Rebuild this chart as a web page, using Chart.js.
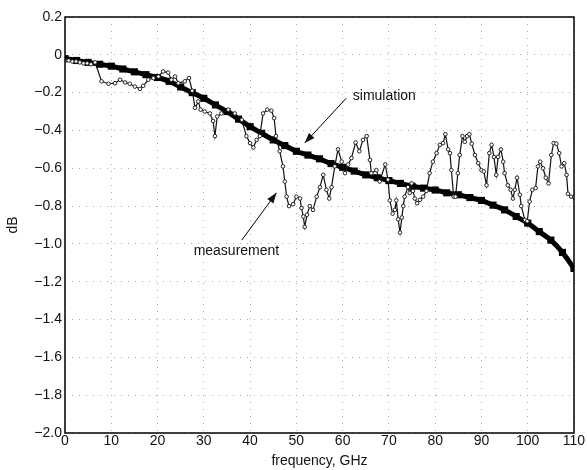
<!DOCTYPE html>
<html>
<head>
<meta charset="utf-8">
<script src="https://cdn.jsdelivr.net/npm/chart.js@4/dist/chart.umd.min.js"></script>
<style>
  html, body { margin: 0; padding: 0; background: #fff; }
  #wrap { width: 587px; height: 470px; }
</style>
</head>
<body>
<div id="wrap"><canvas id="lossChart" width="587" height="470"></canvas></div>
<script>
// axis ticks
const xTicks = [0, 10, 20, 30, 40, 50, 60, 70, 80, 90, 100, 110];
const yTickLabels = ['0.2', '0', '−0.2', '−0.4', '−0.6', '−0.8', '−1.0', '−1.2', '−1.4', '−1.6', '−1.8', '−2.0'];

// simulation (smooth curve)
const simFreq = [0, 2.5, 5, 7.5, 10, 12.5, 15, 17.5, 20, 22.5, 25, 27.5, 30, 32.5, 35, 37.5, 40, 42.5, 45, 47.5,
    50, 52.5, 55, 57.5, 60, 62.5, 65, 67.5, 70, 72.5, 75, 77.5, 80, 82.5, 85, 87.5, 90, 92.5, 95, 97.5,
    100, 102.5, 105, 107.5, 110];
const simDb = [-0.02, -0.03, -0.04, -0.05, -0.06, -0.075, -0.09, -0.105, -0.12, -0.14, -0.17, -0.2, -0.23, -0.265, -0.3, -0.34, -0.38, -0.415, -0.45, -0.48,
    -0.51, -0.53, -0.55, -0.575, -0.595, -0.615, -0.635, -0.65, -0.665, -0.68, -0.695, -0.705, -0.715, -0.73, -0.74, -0.755, -0.77, -0.795, -0.82, -0.855,
    -0.89, -0.935, -0.98, -1.045, -1.13];

// measurement (noisy)
const measFreq = [0, 0.8, 1.6, 2.4, 3.2, 4.0, 4.8, 5.6, 6.5, 7.9, 9.4, 10.8, 11.9, 13.0, 14.0, 15.1, 16.2, 16.9, 18.0, 19.1,
    20.2, 21.2, 22.3, 23.0, 23.8, 24.5, 25.9, 26.8, 27.5, 28.1, 28.8, 29.3, 30.2, 31.3, 32.0, 32.4, 32.9, 33.8, 35.3, 36.7,
    38.2, 39.2, 40.0, 40.7, 41.4, 42.1, 42.8, 43.7, 44.6, 45.2, 45.6, 46.4, 47.1, 47.5, 47.9, 48.4, 49.3, 50.0, 50.8, 51.1,
    51.5, 51.8, 52.3, 52.9, 53.6, 54.4, 55.1, 55.8, 56.5, 57.1, 57.6, 58.3, 59.0, 59.8, 60.5, 61.2, 61.9, 62.8, 63.6, 64.4,
    65.2, 65.9, 66.2, 67.3, 68.0, 69.2, 69.8, 70.2, 70.8, 71.3, 71.6, 72.0, 72.4, 72.8, 73.1, 73.4, 74.1, 74.5, 74.9, 75.2,
    75.6, 76.1, 76.7, 77.4, 78.1, 78.8, 79.5, 80.3, 81.0, 81.7, 82.2, 82.8, 83.2, 83.5, 84.0, 84.4, 84.9, 85.3, 85.9, 86.4,
    86.9, 87.4, 87.9, 88.6, 89.3, 90.0, 90.5, 91.1, 91.7, 92.2, 92.7, 93.2, 93.6, 94.2, 94.7, 95.0, 95.7, 96.3, 96.8, 97.2,
    97.7, 98.3, 98.6, 99.4, 99.9, 100.4, 101.0, 101.7, 102.2, 102.7, 103.3, 103.9, 104.5, 105.1, 105.6, 106.2, 106.8, 107.3, 107.9, 108.4,
    108.7, 109.4, 110];
const measDb = [-0.03, -0.03, -0.035, -0.035, -0.04, -0.045, -0.045, -0.05, -0.04, -0.14, -0.153, -0.15, -0.132, -0.146, -0.153, -0.168, -0.18, -0.164, -0.132, -0.123,
    -0.115, -0.088, -0.094, -0.132, -0.115, -0.15, -0.14, -0.123, -0.19, -0.28, -0.247, -0.29, -0.3, -0.31, -0.35, -0.43, -0.326, -0.31, -0.29, -0.31,
    -0.344, -0.43, -0.467, -0.49, -0.45, -0.43, -0.31, -0.29, -0.295, -0.335, -0.43, -0.51, -0.59, -0.67, -0.75, -0.8, -0.79, -0.75, -0.76, -0.81,
    -0.855, -0.91, -0.846, -0.8, -0.82, -0.75, -0.7, -0.635, -0.714, -0.76, -0.7, -0.59, -0.5, -0.565, -0.626, -0.58, -0.546, -0.464, -0.51, -0.45,
    -0.43, -0.556, -0.626, -0.61, -0.67, -0.58, -0.66, -0.77, -0.84, -0.82, -0.77, -0.87, -0.94, -0.86, -0.8, -0.75, -0.7, -0.73, -0.68, -0.72,
    -0.76, -0.785, -0.767, -0.75, -0.72, -0.626, -0.565, -0.52, -0.476, -0.467, -0.42, -0.5, -0.52, -0.61, -0.75, -0.75, -0.626, -0.53, -0.43, -0.46,
    -0.43, -0.42, -0.47, -0.53, -0.573, -0.61, -0.617, -0.69, -0.52, -0.476, -0.54, -0.635, -0.54, -0.5, -0.565, -0.626, -0.69, -0.714, -0.76, -0.714,
    -0.65, -0.74, -0.8, -0.873, -0.88, -0.776, -0.714, -0.705, -0.59, -0.565, -0.6, -0.65, -0.68, -0.53, -0.467, -0.47, -0.52, -0.59, -0.573, -0.635,
    -0.735, -0.75, -0.753];

const FONT = '"Liberation Sans", Arial, sans-serif';

function pairs(xs, ys) {
    return xs.map((x, i) => ({ x: x, y: ys[i] }));
}

// frame box + text callouts with arrows
const calloutPlugin = {
    id: 'callouts',
    afterDatasetsDraw(chart) {
        const { ctx, chartArea: a, scales: { x, y } } = chart;
        ctx.save();
        ctx.strokeStyle = '#000';
        ctx.lineWidth = 1.5;
        ctx.strokeRect(a.left, a.top, a.right - a.left, a.bottom - a.top);

        const notes = [
            { text: 'simulation', tx: 62.2, ty: -0.22, from: [60.8, -0.229], to: [51.8, -0.467] },
            { text: 'measurement', tx: 27.8, ty: -1.04, from: [38.2, -0.98], to: [45.7, -0.73] }
        ];
        ctx.font = '14px ' + FONT;
        ctx.fillStyle = '#111';
        ctx.textBaseline = 'middle';
        ctx.textAlign = 'left';
        notes.forEach(n => {
            ctx.fillText(n.text, x.getPixelForValue(n.tx), y.getPixelForValue(n.ty));
            const x0 = x.getPixelForValue(n.from[0]), y0 = y.getPixelForValue(n.from[1]);
            const x1 = x.getPixelForValue(n.to[0]), y1 = y.getPixelForValue(n.to[1]);
            ctx.lineWidth = 1;
            ctx.beginPath();
            ctx.moveTo(x0, y0);
            ctx.lineTo(x1, y1);
            ctx.stroke();
            const ang = Math.atan2(y1 - y0, x1 - x0);
            const len = 11, wid = 0.35;
            ctx.beginPath();
            ctx.moveTo(x1, y1);
            ctx.lineTo(x1 - len * Math.cos(ang - wid), y1 - len * Math.sin(ang - wid));
            ctx.lineTo(x1 - len * Math.cos(ang + wid), y1 - len * Math.sin(ang + wid));
            ctx.closePath();
            ctx.fill();
        });
        ctx.restore();
    }
};

const ctx = document.getElementById('lossChart').getContext('2d');
new Chart(ctx, {
    type: 'scatter',
    data: {
        datasets: [
            {
                label: 'measurement',
                data: pairs(measFreq, measDb),
                showLine: true,
                borderColor: '#111',
                borderWidth: 1.2,
                pointStyle: 'circle',
                pointRadius: 1.8,
                pointBackgroundColor: '#fff',
                pointBorderColor: '#222',
                pointBorderWidth: 1,
                tension: 0
            },
            {
                label: 'simulation',
                data: pairs(simFreq, simDb),
                showLine: true,
                borderColor: '#000',
                borderWidth: 5,
                pointStyle: 'rect',
                pointRadius: 1.5,
                pointBackgroundColor: '#000',
                pointBorderColor: '#000',
                tension: 0.4,
                cubicInterpolationMode: 'monotone'
            }
        ]
    },
    options: {
        responsive: false,
        animation: false,
        layout: { padding: { top: 17, right: 13, left: 0, bottom: 0 } },
        plugins: {
            legend: { display: false },
            tooltip: { enabled: false }
        },
        scales: {
            x: {
                type: 'linear',
                min: 0,
                max: 110,
                afterBuildTicks: s => { s.ticks = xTicks.map(v => ({ value: v })); },
                afterFit: s => { s.height = 37; },
                ticks: {
                    color: '#111',
                    font: { family: FONT, size: 14 },
                    padding: 0,
                    maxRotation: 0,
                    autoSkip: false
                },
                grid: { color: '#aaa', drawTicks: false, lineWidth: 1 },
                border: { display: false, dash: [1, 6] },
                title: {
                    display: true,
                    text: 'frequency, GHz',
                    color: '#111',
                    font: { family: FONT, size: 14 },
                    padding: { top: 3, bottom: 0 }
                }
            },
            y: {
                type: 'linear',
                min: -2.0,
                max: 0.2,
                afterBuildTicks: s => {
                    s.ticks = yTickLabels.map((t, i) => ({ value: Math.round((0.2 - i * 0.2) * 10) / 10 }));
                },
                afterFit: s => { s.width = 65; },
                ticks: {
                    color: '#111',
                    font: { family: FONT, size: 14 },
                    padding: 3,
                    callback: (v) => yTickLabels[Math.round((0.2 - v) / 0.2)]
                },
                grid: { color: '#aaa', drawTicks: false, lineWidth: 1 },
                border: { display: false, dash: [1, 6] },
                title: {
                    display: true,
                    text: 'dB',
                    color: '#111',
                    font: { family: FONT, size: 14 },
                    padding: { top: 5, bottom: 0 }
                }
            }
        }
    },
    plugins: [calloutPlugin]
});
</script>
</body>
</html>
